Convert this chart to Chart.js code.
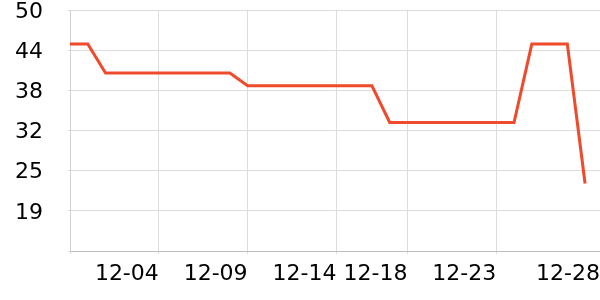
<!DOCTYPE html>
<html>
<head>
<meta charset="utf-8">
<script src="https://cdn.jsdelivr.net/npm/chart.js@4/dist/chart.umd.min.js"></script>
<style>
  html, body { margin: 0; padding: 0; background: #fff; }
  #wrap { width: 600px; height: 300px; }
</style>
</head>
<body>
<div id="wrap"><canvas id="c" width="600" height="300"></canvas></div>
<script>
const dates = ['11-29','11-30','12-01','12-02','12-03','12-04','12-05','12-06','12-07','12-08',
               '12-09','12-10','12-11','12-12','12-13','12-14','12-15','12-16','12-17','12-18',
               '12-19','12-20','12-21','12-22','12-23','12-24','12-25','12-26','12-27','12-28'];
const values = [44.7, 44.7, 40.2, 40.2, 40.2, 40.2, 40.2, 40.2, 40.2, 40.2,
                38.2, 38.2, 38.2, 38.2, 38.2, 38.2, 38.2, 38.2, 32.5, 32.5,
                32.5, 32.5, 32.5, 32.5, 32.5, 32.5, 44.7, 44.7, 44.7, 23.0];
const xTickLabels = ['12-04','12-09','12-14','12-18','12-23','12-28'];
const yTickValues = [12.5, 18.75, 25, 31.25, 37.5, 43.75, 50];
const yTickLabels = ['', '19', '25', '32', '38', '44', '50'];

const FONT = { family: 'DejaVu Sans', size: 22 };
const X_MAX = 29.84;

new Chart(document.getElementById('c'), {
  type: 'line',
  data: {
    datasets: [{
      data: values.map((v, i) => ({ x: i, y: v })),
      borderColor: '#ef4a2b',
      borderWidth: 3,
      pointRadius: 0,
      tension: 0,
      fill: false
    }]
  },
  options: {
    responsive: false,
    devicePixelRatio: 1,
    animation: false,
    plugins: { legend: { display: false }, tooltip: { enabled: false } },
    layout: { padding: 0 },
    scales: {
      x: {
        type: 'linear',
        min: 0,
        max: X_MAX,
        afterBuildTicks: (scale) => {
          const last = dates[dates.length - 1];
          scale.ticks = [{ value: 0 }].concat(xTickLabels.map(l => ({
            value: l === last ? scale.max : dates.indexOf(l)
          })));
        },
        afterFit: (scale) => {
          scale.height = 49;
          scale.paddingLeft = 0;
          scale.paddingRight = 0;
        },
        ticks: {
          autoSkip: false,
          maxRotation: 0,
          align: 'end',
          padding: 7,
          color: '#000',
          font: FONT,
          callback: function (value) {
            if (value === 0) return '';
            if (value === this.max) return xTickLabels[xTickLabels.length - 1];
            const d = dates[value];
            return xTickLabels.includes(d) ? d : '';
          }
        },
        grid: {
          color: (ctx) => (ctx.tick && ctx.tick.value === X_MAX) ? 'rgba(0,0,0,0)' : '#dcdcdc',
          lineWidth: 1,
          tickLength: 3
        },
        border: { color: '#bdbdbd', width: 1 }
      },
      y: {
        type: 'linear',
        min: 12.5,
        max: 50,
        afterBuildTicks: (scale) => {
          scale.ticks = yTickValues.map(v => ({ value: v }));
        },
        afterFit: (scale) => {
          scale.width = 70;
          scale.paddingTop = 10;
          scale.paddingBottom = 0;
        },
        ticks: {
          padding: 25,
          labelOffset: 2,
          color: '#000',
          font: { family: 'DejaVu Sans', size: 22, lineHeight: 0.9 },
          callback: (value) => {
            const i = yTickValues.indexOf(value);
            return i >= 0 ? yTickLabels[i] : '';
          }
        },
        grid: { color: '#dcdcdc', lineWidth: 1, tickLength: 2 },
        border: { color: '#d0d0d0', width: 1 }
      }
    }
  }
});
</script>
</body>
</html>
